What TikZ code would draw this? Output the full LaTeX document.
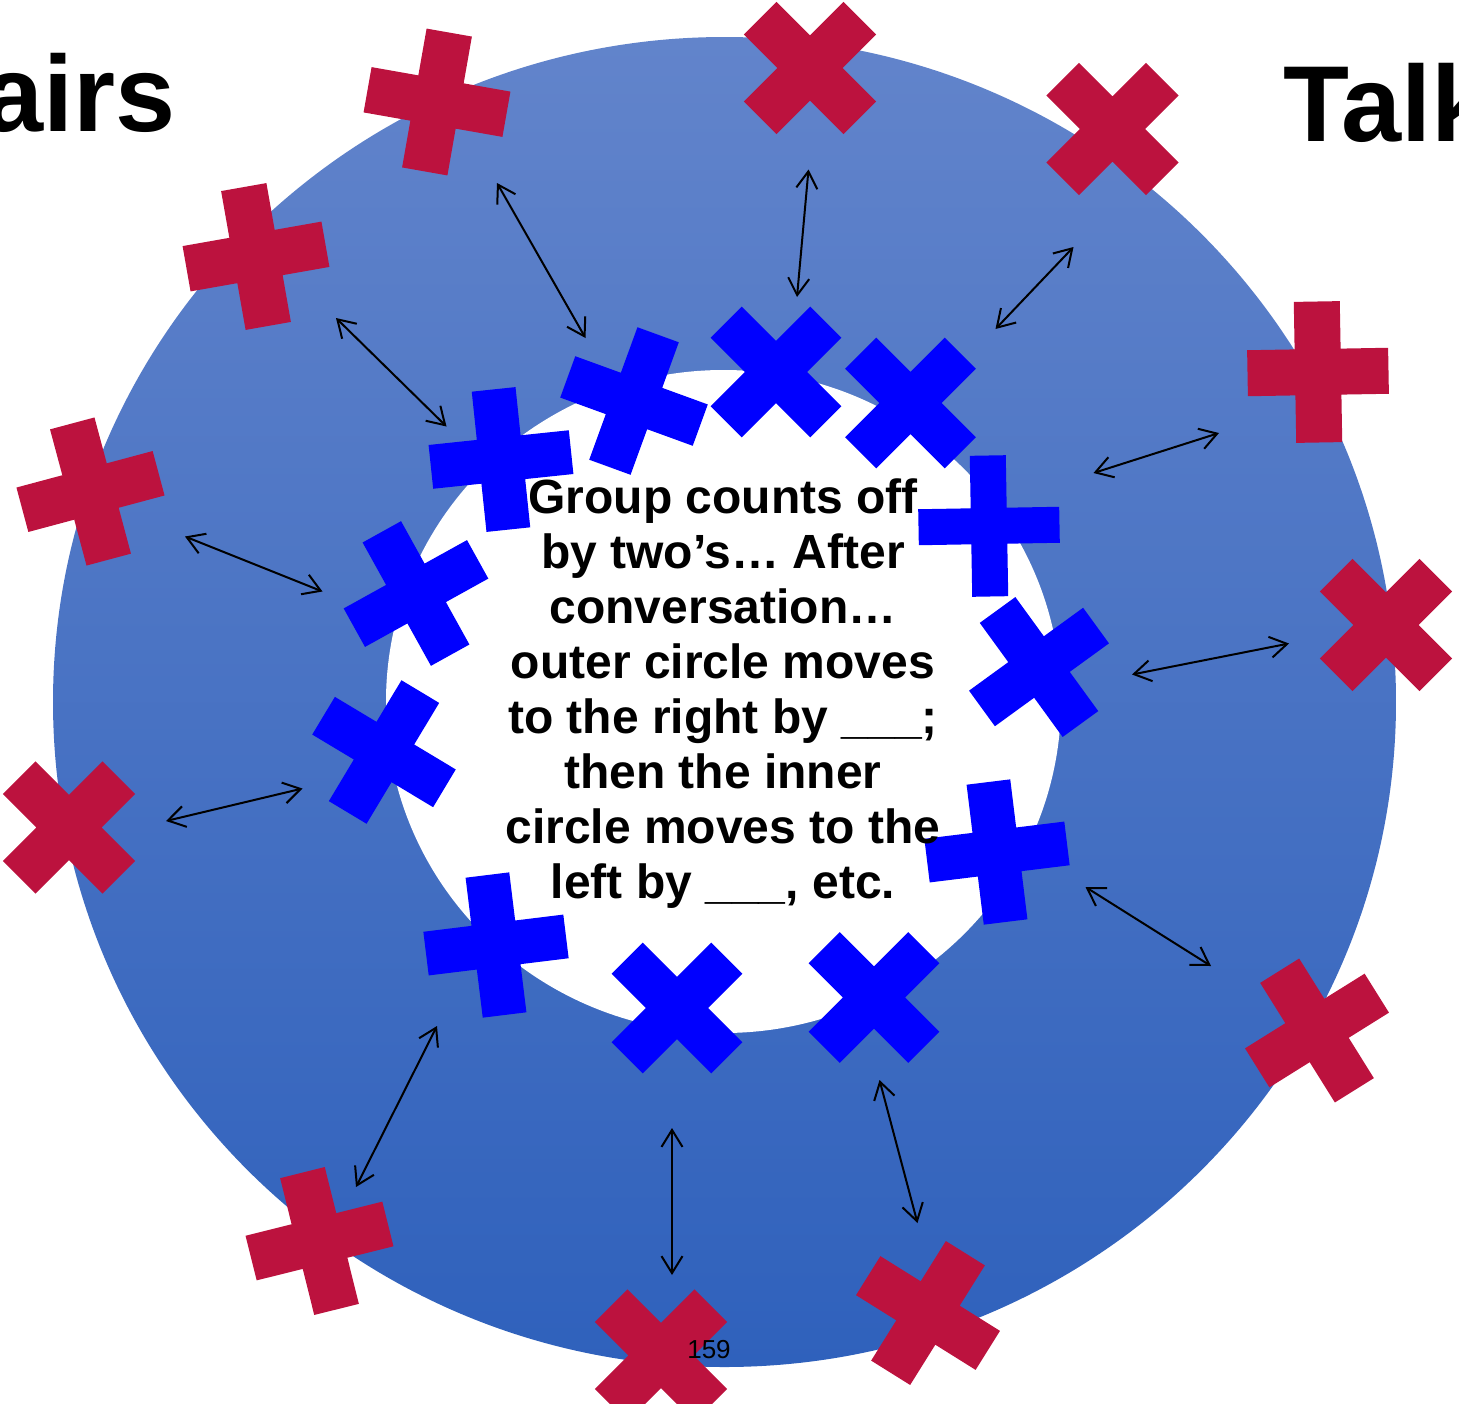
\documentclass[tikz,border=0pt]{standalone}
\usepackage{fontspec}
\setmainfont{Liberation Sans}
\usetikzlibrary{arrows.meta}
\definecolor{crossred}{RGB}{188,18,62}
\definecolor{crossblue}{RGB}{0,0,255}
\definecolor{ringtop}{RGB}{98,132,203}
\definecolor{ringmid}{RGB}{69,114,196}
\definecolor{ringbot}{RGB}{47,97,188}
% #1 style, #2 x, #3 y, #4 angle, #5 half arm width
\newcommand{\crossmark}[5]{%
  \fill[#1, shift={(#2,#3)}, rotate=#4]
    (-70.5,-#5) -- (-#5,-#5) -- (-#5,-70.5) -- (#5,-70.5) -- (#5,-#5) -- (70.5,-#5)
    -- (70.5,#5) -- (#5,#5) -- (#5,70.5) -- (-#5,70.5) -- (-#5,#5) -- (-70.5,#5) -- cycle;}
\begin{document}
\begin{tikzpicture}[x=1pt,y=-1pt,
  pairarrow/.style={line width=2pt,
    {Straight Barb[length=17pt,width=21pt]}-{Straight Barb[length=17pt,width=21pt]}},
  redmark/.style={crossred},
  bluemark/.style={crossblue},
  titletext/.style={inner sep=0pt, font=\bfseries\fontsize{108}{120}\selectfont}]
\useasboundingbox (0,0) rectangle (1459,1403);
\begin{scope}
\clip (0,0) rectangle (1459,1403);
% ring
\shade[top color=ringtop, middle color=ringmid, bottom color=ringbot]
  (724.5,702) ellipse [x radius=671.5pt, y radius=665pt];
\fill[white] (723.5,701.5) ellipse [x radius=337.5pt, y radius=331.5pt];
% titles
\node[titletext, anchor=base east] (ttlA) at (176,131) {airs};
\node[titletext, anchor=base west] (ttlB) at (1283,141) {Talk};
% outer (red) marks
\crossmark{redmark}{437}{102}{-10}{23}
\crossmark{redmark}{810}{68}{45}{23}
\crossmark{redmark}{1112.5}{129}{45}{23}
\crossmark{redmark}{1318}{372}{1}{23}
\crossmark{redmark}{1386}{625}{45}{23}
\crossmark{redmark}{1317}{1030.5}{32}{23}
\crossmark{redmark}{928}{1313}{-32}{23}
\crossmark{redmark}{661}{1355.5}{45}{23}
\crossmark{redmark}{319.5}{1241}{14}{23}
\crossmark{redmark}{69}{827.5}{45}{23}
\crossmark{redmark}{90.5}{491.5}{15}{23}
\crossmark{redmark}{256}{256.5}{10}{23}
% inner (blue) marks
\crossmark{bluemark}{501}{459.5}{6}{22}
\crossmark{bluemark}{634}{401}{-20}{22}
\crossmark{bluemark}{776}{372}{45}{22}
\crossmark{bluemark}{910.5}{403}{45}{22}
\crossmark{bluemark}{989}{526}{1}{18}
\crossmark{bluemark}{1039}{667}{36}{22}
\crossmark{bluemark}{997}{852}{7}{22}
\crossmark{bluemark}{874}{997.5}{45}{22}
\crossmark{bluemark}{677}{1008}{45}{22}
\crossmark{bluemark}{496}{945}{7}{22}
\crossmark{bluemark}{384}{752}{-31}{22}
\crossmark{bluemark}{416}{593.5}{29}{22}
% arrow end points
\coordinate (a1s) at (497,183);    \coordinate (a1e) at (585.5,338);
\coordinate (a2s) at (808.5,169.5); \coordinate (a2e) at (797,297);
\coordinate (a3s) at (1073.5,247); \coordinate (a3e) at (995.5,329);
\coordinate (a4s) at (1219,433);   \coordinate (a4e) at (1093.5,473);
\coordinate (a5s) at (1289,643.5); \coordinate (a5e) at (1132,674.5);
\coordinate (a6s) at (1211,966);   \coordinate (a6e) at (1085.5,887);
\coordinate (a7s) at (879.5,1080); \coordinate (a7e) at (917.5,1223);
\coordinate (a8s) at (672,1128);   \coordinate (a8e) at (672,1275);
\coordinate (a9s) at (437,1026);   \coordinate (a9e) at (356,1187);
\coordinate (a10s) at (302.5,788.5); \coordinate (a10e) at (166,821);
\coordinate (a11s) at (185,536.5); \coordinate (a11e) at (322.5,591.5);
\coordinate (a12s) at (336,318);   \coordinate (a12e) at (446.5,426.5);
\foreach \k in {1,...,12}{\draw[pairarrow] (a\k s) -- (a\k e);}
% central text
\node[anchor=base, inner sep=0pt, font=\bfseries\fontsize{48}{55}\selectfont] (msg) at (723,513)
  {\begin{tabular}[t]{@{}c@{}}Group counts off\\ by two’s… After\\ conversation…\\ outer circle moves\\
   to the right by \_\_\_;\\ then the inner\\ circle moves to the\\ left by \_\_\_, etc.\end{tabular}};
\node[inner sep=0pt, font=\fontsize{26}{30}\selectfont] (pg) at (709,1350) {159};
\end{scope}
\end{tikzpicture}
\end{document}
